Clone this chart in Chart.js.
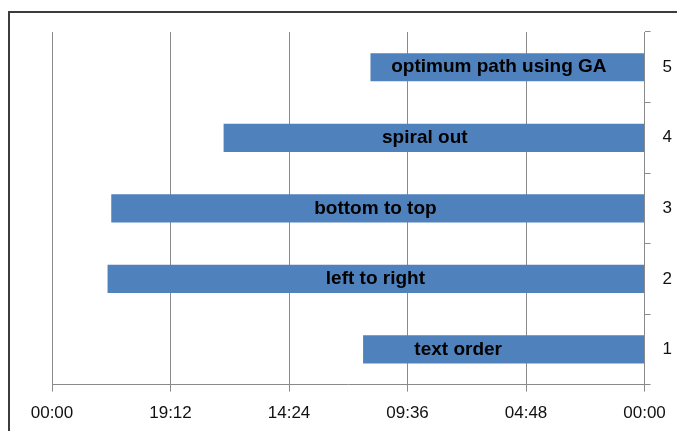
<!DOCTYPE html>
<html>
<head>
<meta charset="utf-8">
<script src="https://cdn.jsdelivr.net/npm/chart.js@4/dist/chart.umd.min.js"></script>
<style>
	html, body { margin: 0; padding: 0; background: #fff; overflow: hidden; }
	#frame {
		position: absolute; left: 8px; top: 11px; width: 700px; height: 440px;
		border-top: 2px solid #3c3c3c; border-left: 2px solid #3c3c3c;
	}
	#wrap { position: absolute; left: 0; top: 0; width: 690px; height: 440px; }
</style>
</head>
<body>
<div id="frame"></div>
<div id="wrap"><canvas id="chart" width="690" height="440"></canvas></div>
<script>
// categories, bottom to top
var categories = ['1', '2', '3', '4', '5'];
// bar lengths in hours (axis runs from 0 at the right to 24h at the left)
var durations = [11.4, 21.75, 21.6, 17.05, 11.1];
var barNames = ['text order', 'left to right', 'bottom to top', 'spiral out', 'optimum path using GA'];
// where the name sits on each bar, in hours
var labelHours = [7.55, 10.9, 10.9, 8.9, 5.9];
var tickStep = 4.8;

function formatTime(v) {
	var mins = Math.round(v * 60) % 1440;
	var hh = Math.floor(mins / 60);
	var mm = mins % 60;
	return (hh < 10 ? '0' : '') + hh + ':' + (mm < 10 ? '0' : '') + mm;
}

// writes the names on the bars
const barNamesPlugin = {
	id: 'barNames',
	afterDatasetsDraw(chart) {
		var ctx = chart.ctx;
		var x = chart.scales.x;
		var meta = chart.getDatasetMeta(0);
		ctx.save();
		ctx.font = 'bold 19px "Liberation Sans", Arial, sans-serif';
		ctx.fillStyle = '#000';
		ctx.textAlign = 'center';
		ctx.textBaseline = 'middle';
		for (let i = 0; i < barNames.length; i++) {
			ctx.fillText(barNames[i], x.getPixelForValue(labelHours[i]), meta.data[i].y);
		}
		ctx.restore();
	}
};

const gridColor = '#8a8a8a';

new Chart(document.getElementById('chart'), {
	type: 'bar',
	data: {
		labels: categories,
		datasets: [{
			data: durations,
			backgroundColor: '#4f81bd',
			borderWidth: 0,
			categoryPercentage: 1,
			barPercentage: 0.4
		}]
	},
	options: {
		indexAxis: 'y',
		responsive: false,
		animation: false,
		layout: { padding: { left: 52, top: 32, right: 6, bottom: 4 } },
		plugins: {
			legend: { display: false },
			tooltip: { enabled: false }
		},
		scales: {
			x: {
				type: 'linear',
				min: 0,
				max: 24,
				reverse: true,
				ticks: {
					stepSize: tickStep,
					color: '#111',
					font: { family: '"Liberation Sans", Arial, sans-serif', size: 17 },
					padding: 12,
					maxRotation: 0,
					callback: function(v) { return formatTime(v); }
				},
				grid: { color: gridColor, lineWidth: 1, drawTicks: true, tickLength: 7 },
				border: { color: gridColor }
			},
			y: {
				position: 'right',
				reverse: true,
				ticks: {
					color: '#111',
					font: { family: '"Liberation Sans", Arial, sans-serif', size: 17 },
					padding: 12
				},
				grid: { offset: true, drawOnChartArea: false, drawTicks: true, tickLength: 6, color: gridColor },
				border: { color: gridColor }
			}
		}
	},
	plugins: [barNamesPlugin]
});
</script>
</body>
</html>
